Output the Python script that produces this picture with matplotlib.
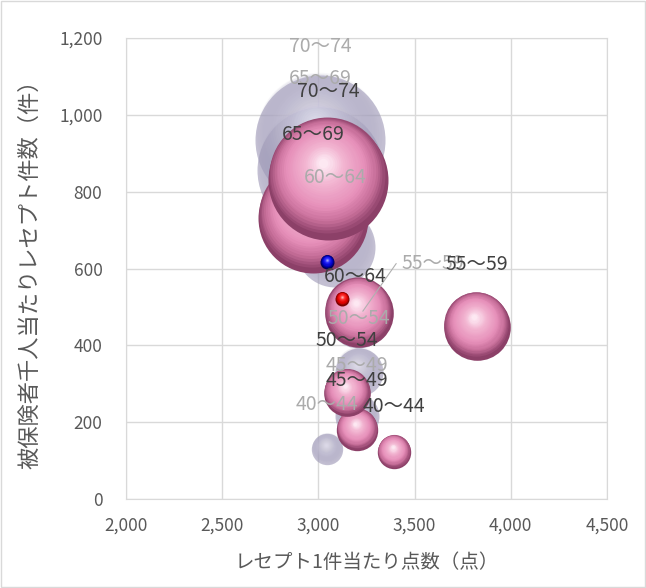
import numpy as np
import matplotlib
matplotlib.use("Agg")
import matplotlib.pyplot as plt
import matplotlib.transforms as mtransforms
from matplotlib.colors import LinearSegmentedColormap
from matplotlib.patches import Rectangle

plt.rcParams["font.family"] = ["Noto Sans CJK JP", "DejaVu Sans"]

# %% data
ages = ["40～44", "45～49", "50～54", "55～59", "60～64", "65～69", "70～74"]
# pink series (dark labels)
pink_x = [3393, 3201, 3149, 3824, 3211, 2972, 3050]
pink_y = [122, 180, 276, 448, 484, 731, 830]
pink_size = [279, 428, 543, 1109, 1176, 3025, 3600]
# lavender series (light labels)
lav_x = [3045, 3201, 3211, 3206, 3086, 3008, 3008]
lav_y = [130, 216, 331, 471, 656, 856, 934]
lav_size = [246, 484, 576, 900, 1600, 3969, 4225]
# average points (red = pink series, blue = lavender series)
avg_x = [3123, 3045]
avg_y = [521, 617]
avg_size = [49, 49]

x_ticks = [2000, 2500, 3000, 3500, 4000, 4500]
y_ticks = [0, 200, 400, 600, 800, 1000, 1200]
x_label = "レセプト1件当たり点数（点）"
y_label = "被保険者千人当たりレセプト件数（件）"

# %% styles
PX = 0.72  # points per pixel at dpi 100
pink_cmap = LinearSegmentedColormap.from_list(
    "pink",
    [(0, "#8c4068"), (0.16, "#c66e99"), (0.36, "#e68fb9"), (0.72, "#f2b4d1"), (1, "#fde8f2")],
)
lav_cmap = LinearSegmentedColormap.from_list(
    "lav", [(0, "#9e99b7"), (0.18, "#bab5ce"), (0.5, "#d9d6e5"), (1, "#fbfaff")]
)
red_cmap = LinearSegmentedColormap.from_list(
    "red", [(0, "#7a0000"), (0.3, "#e00000"), (0.7, "#ff3030"), (1, "#ffb0b0")]
)
blue_cmap = LinearSegmentedColormap.from_list(
    "blue", [(0, "#00005a"), (0.3, "#0000c8"), (0.7, "#2a2aff"), (1, "#a0a0ff")]
)

fig = plt.figure(figsize=(6.46, 5.88), dpi=100)
ax = fig.add_axes([126 / 646, 1 - 499 / 588, 481 / 646, 461 / 588])


def sphere(x, y, val, cmap, z, base_alpha=1.0, layer_alpha=1.0, n=28):
    # fake 3D bubble: stacked circles shrinking toward a highlight near the top
    r_pt = np.sqrt(val) * PX
    for k in range(n):
        t = k / (n - 1)
        f = 1 - 0.92 * t
        shift = (1 - f) ** 0.4
        dx = -0.08 * r_pt * shift
        dy = 0.30 * r_pt * shift
        tr = mtransforms.offset_copy(ax.transData, fig=fig, x=dx, y=dy, units="points")
        ax.scatter(
            [x], [y], s=(2 * r_pt * f) ** 2, color=cmap(t),
            alpha=base_alpha if k == 0 else layer_alpha,
            transform=tr, linewidths=0, zorder=z,
        )


for x, y, v in zip(lav_x, lav_y, lav_size):
    sphere(x, y, v, lav_cmap, 2, base_alpha=0.62, layer_alpha=0.08)
for x, y, v in zip(pink_x, pink_y, pink_size):
    sphere(x, y, v, pink_cmap, 3)
for x, y, v, cm in zip(avg_x, avg_y, avg_size, [red_cmap, blue_cmap]):
    sphere(x, y, v, cm, 4, n=14)

# %% labels, placed above each bubble (a couple were moved by hand)
GAP = 29  # px above bubble top
moved = {("pink", "60～64"): (-4, -37), ("lav", "55～59"): (75, -55)}
for key, xs, ys, vs, col in [
    ("lav", lav_x, lav_y, lav_size, "#ababab"),
    ("pink", pink_x, pink_y, pink_size, "#404040"),
]:
    for a, x, y, v in zip(ages, xs, ys, vs):
        dx, dy = moved.get((key, a), (0, -(np.sqrt(v) + GAP)))
        arrow = None
        if (key, a) in moved and key == "lav":
            arrow = dict(arrowstyle="-", color="#b0b0b0", lw=0.8, shrinkA=2, shrinkB=6,
                         connectionstyle="angle,angleA=0,angleB=55,rad=0")
        ax.annotate(
            a, xy=(x, y), xytext=(dx * PX, -dy * PX), textcoords="offset points",
            ha="center", va="center", fontsize=14, color=col, zorder=6,
            arrowprops=arrow,
        )

# %% axes
ax.set_xlim(2000, 4500)
ax.set_ylim(0, 1200)
ax.set_xticks(x_ticks)
ax.set_yticks(y_ticks)
ax.set_xticklabels([f"{v:,}" for v in x_ticks])
ax.set_yticklabels([f"{v:,}" for v in y_ticks])
ax.tick_params(axis="both", length=0, labelsize=12.5, labelcolor="#595959")
ax.tick_params(axis="x", pad=13)
ax.tick_params(axis="y", pad=17)
ax.grid(True, color="#d9d9d9", lw=1)
ax.set_axisbelow(True)
for s in ax.spines.values():
    s.set_color("#d9d9d9")
ax.set_xlabel(x_label, fontsize=14, color="#595959", labelpad=12)
ax.set_ylabel(y_label, fontsize=16, color="#595959", labelpad=13)

fig.patches.append(
    Rectangle((0.002, 0.002), 0.996, 0.996, transform=fig.transFigure,
              fill=False, edgecolor="#d9d9d9", lw=1)
)

plt.savefig("out.png", dpi=100)
